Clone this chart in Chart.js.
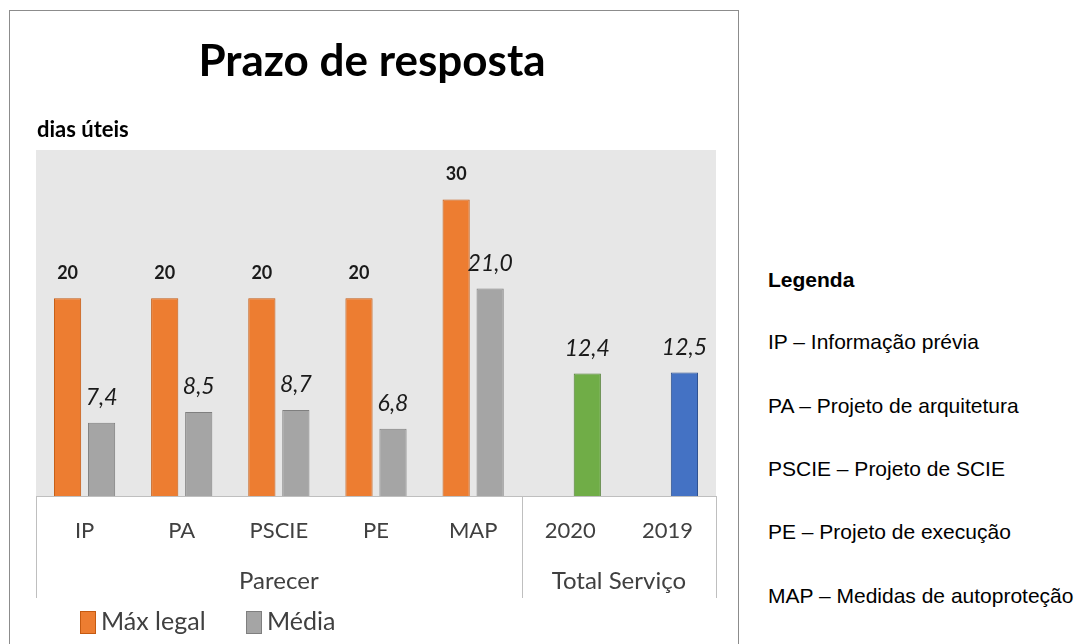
<!DOCTYPE html>
<html>
<head>
<meta charset="utf-8">
<script src="https://cdn.jsdelivr.net/npm/chart.js"></script>
<style>
  body { margin: 0; background: #fff; width: 1079px; height: 644px; overflow: hidden; position: relative; }
  #box { position: absolute; left: 9px; top: 10px; width: 728px; height: 660px; border: 1px solid #8c8c8c; }
  #wrap { position: absolute; left: 0; top: 0; width: 728px; height: 633px; }
  .leg { position: absolute; left: 768px; font-family: "Liberation Sans", Arial, sans-serif; font-size: 21px; color: #000; white-space: nowrap; line-height: 24px; }
</style>
</head>
<body>
<div id="box"><div id="wrap"><canvas id="chart"></canvas></div></div>
<div class="leg" style="top:268px;font-weight:bold">Legenda</div>
<div class="leg" style="top:330px">IP – Informação prévia</div>
<div class="leg" style="top:394px">PA – Projeto de arquitetura</div>
<div class="leg" style="top:457px">PSCIE – Projeto de SCIE</div>
<div class="leg" style="top:520px">PE – Projeto de execução</div>
<div class="leg" style="top:584px">MAP – Medidas de autoproteção</div>
<script>
const categories = ["IP", "PA", "PSCIE", "PE", "MAP", "2020", "2019"];
const maxLegal = [20, 20, 20, 20, 30, null, null];
const media = [7.4, 8.5, 8.7, 6.8, 21.0, 12.4, 12.5];
const groups = [
  { label: "Parecer", from: 0, to: 4 },
  { label: "Total Serviço", from: 5, to: 6 },
];

const mediaColors = ["#a5a5a5", "#a5a5a5", "#a5a5a5", "#a5a5a5", "#a5a5a5", "#70ad47", "#4472c4"];
const mediaBorders = ["#7f7f7f", "#7f7f7f", "#7f7f7f", "#7f7f7f", "#7f7f7f", "#507e32", "#2f528f"];
const FONT = "Lato, 'Noto Sans', sans-serif";

const decor = {
  id: "decor",
  beforeDraw(chart) {
    const { ctx, chartArea: a } = chart;
    ctx.save();
    ctx.fillStyle = "#e7e7e7";
    ctx.fillRect(a.left, a.top, a.right - a.left, a.bottom - a.top);
    ctx.restore();
  },
  afterDatasetsDraw(chart) {
    const ctx = chart.ctx;
    ctx.save();
    ctx.textAlign = "center";
    ctx.textBaseline = "middle";
    ctx.fillStyle = "#1a1a1a";
    chart.data.datasets.forEach((ds, i) => {
      const meta = chart.getDatasetMeta(i);
      meta.data.forEach((bar, j) => {
        const v = ds.data[j];
        if (v === null) return;
        if (i === 0) {
          ctx.font = "bold 18px " + FONT;
          ctx.fillText(String(v), bar.x, bar.y - 25);
        } else {
          ctx.font = "italic 23px " + FONT;
          ctx.fillText(v.toFixed(1).replace(".", ","), bar.x, bar.y - 25);
        }
      });
    });
    ctx.restore();
  },
  afterDraw(chart) {
    const { ctx, chartArea: a } = chart;
    const x = chart.scales.x;
    ctx.save();
    // title and unit label
    ctx.fillStyle = "#000";
    ctx.textAlign = "center";
    ctx.textBaseline = "middle";
    ctx.font = "bold 44px " + FONT;
    ctx.fillText("Prazo de resposta", 362, 51);
    ctx.textAlign = "left";
    ctx.font = "bold 22px " + FONT;
    ctx.fillText("dias úteis", 27, 119);

    // axis box
    ctx.strokeStyle = "#bfbfbf";
    ctx.lineWidth = 1;
    ctx.beginPath();
    ctx.moveTo(a.left, a.bottom + 0.5);
    ctx.lineTo(a.right, a.bottom + 0.5);
    const bounds = [groups[0].from - 0.5].concat(groups.map((g) => g.to + 0.5));
    bounds.forEach((b) => {
      const px = Math.round(x.getPixelForValue(b)) + 0.5;
      ctx.moveTo(px, a.bottom);
      ctx.lineTo(px, 587);
    });
    ctx.stroke();

    // group labels
    ctx.fillStyle = "#404040";
    ctx.textAlign = "center";
    ctx.font = "24px " + FONT;
    groups.forEach((g) => {
      const cx = (x.getPixelForValue(g.from - 0.5) + x.getPixelForValue(g.to + 0.5)) / 2;
      ctx.fillText(g.label, cx, 570);
    });

    // legend
    const items = [
      { text: chart.data.datasets[0].label, fill: "#ed7d31", stroke: "#c55a11", x: 70 },
      { text: chart.data.datasets[1].label, fill: "#a5a5a5", stroke: "#7f7f7f", x: 236 },
    ];
    ctx.textAlign = "left";
    ctx.font = "25px " + FONT;
    items.forEach((it) => {
      ctx.fillStyle = it.fill;
      ctx.fillRect(it.x, 600, 15, 22);
      ctx.strokeStyle = it.stroke;
      ctx.strokeRect(it.x + 0.5, 600.5, 15, 22);
      ctx.fillStyle = "#404040";
      ctx.fillText(it.text, it.x + 21, 611);
    });
    ctx.restore();
  },
};

new Chart(document.getElementById("chart").getContext("2d"), {
  type: "bar",
  data: {
    labels: categories,
    datasets: [
      {
        label: "Máx legal",
        data: maxLegal,
        backgroundColor: "#ed7d31",
        borderColor: "#c55a11",
        borderWidth: 1,
      },
      {
        label: "Média",
        data: media,
        backgroundColor: mediaColors,
        borderColor: mediaBorders,
        borderWidth: 1,
      },
    ],
  },
  options: {
    responsive: true,
    maintainAspectRatio: false,
    animation: false,
    categoryPercentage: 0.7,
    barPercentage: 0.8,
    layout: { padding: { left: 26, right: 22, top: 139, bottom: 38 } },
    plugins: { legend: { display: false }, title: { display: false }, tooltip: { enabled: false } },
    scales: {
      y: { display: false, min: 0, max: 35 },
      x: {
        grid: { display: false, drawTicks: false },
        border: { display: false },
        ticks: { padding: 22, color: "#404040", font: { family: FONT, size: 22 }, maxRotation: 0 },
        afterFit(scale) { scale.height = 110; },
      },
    },
  },
  plugins: [decor],
});
</script>
</body>
</html>
